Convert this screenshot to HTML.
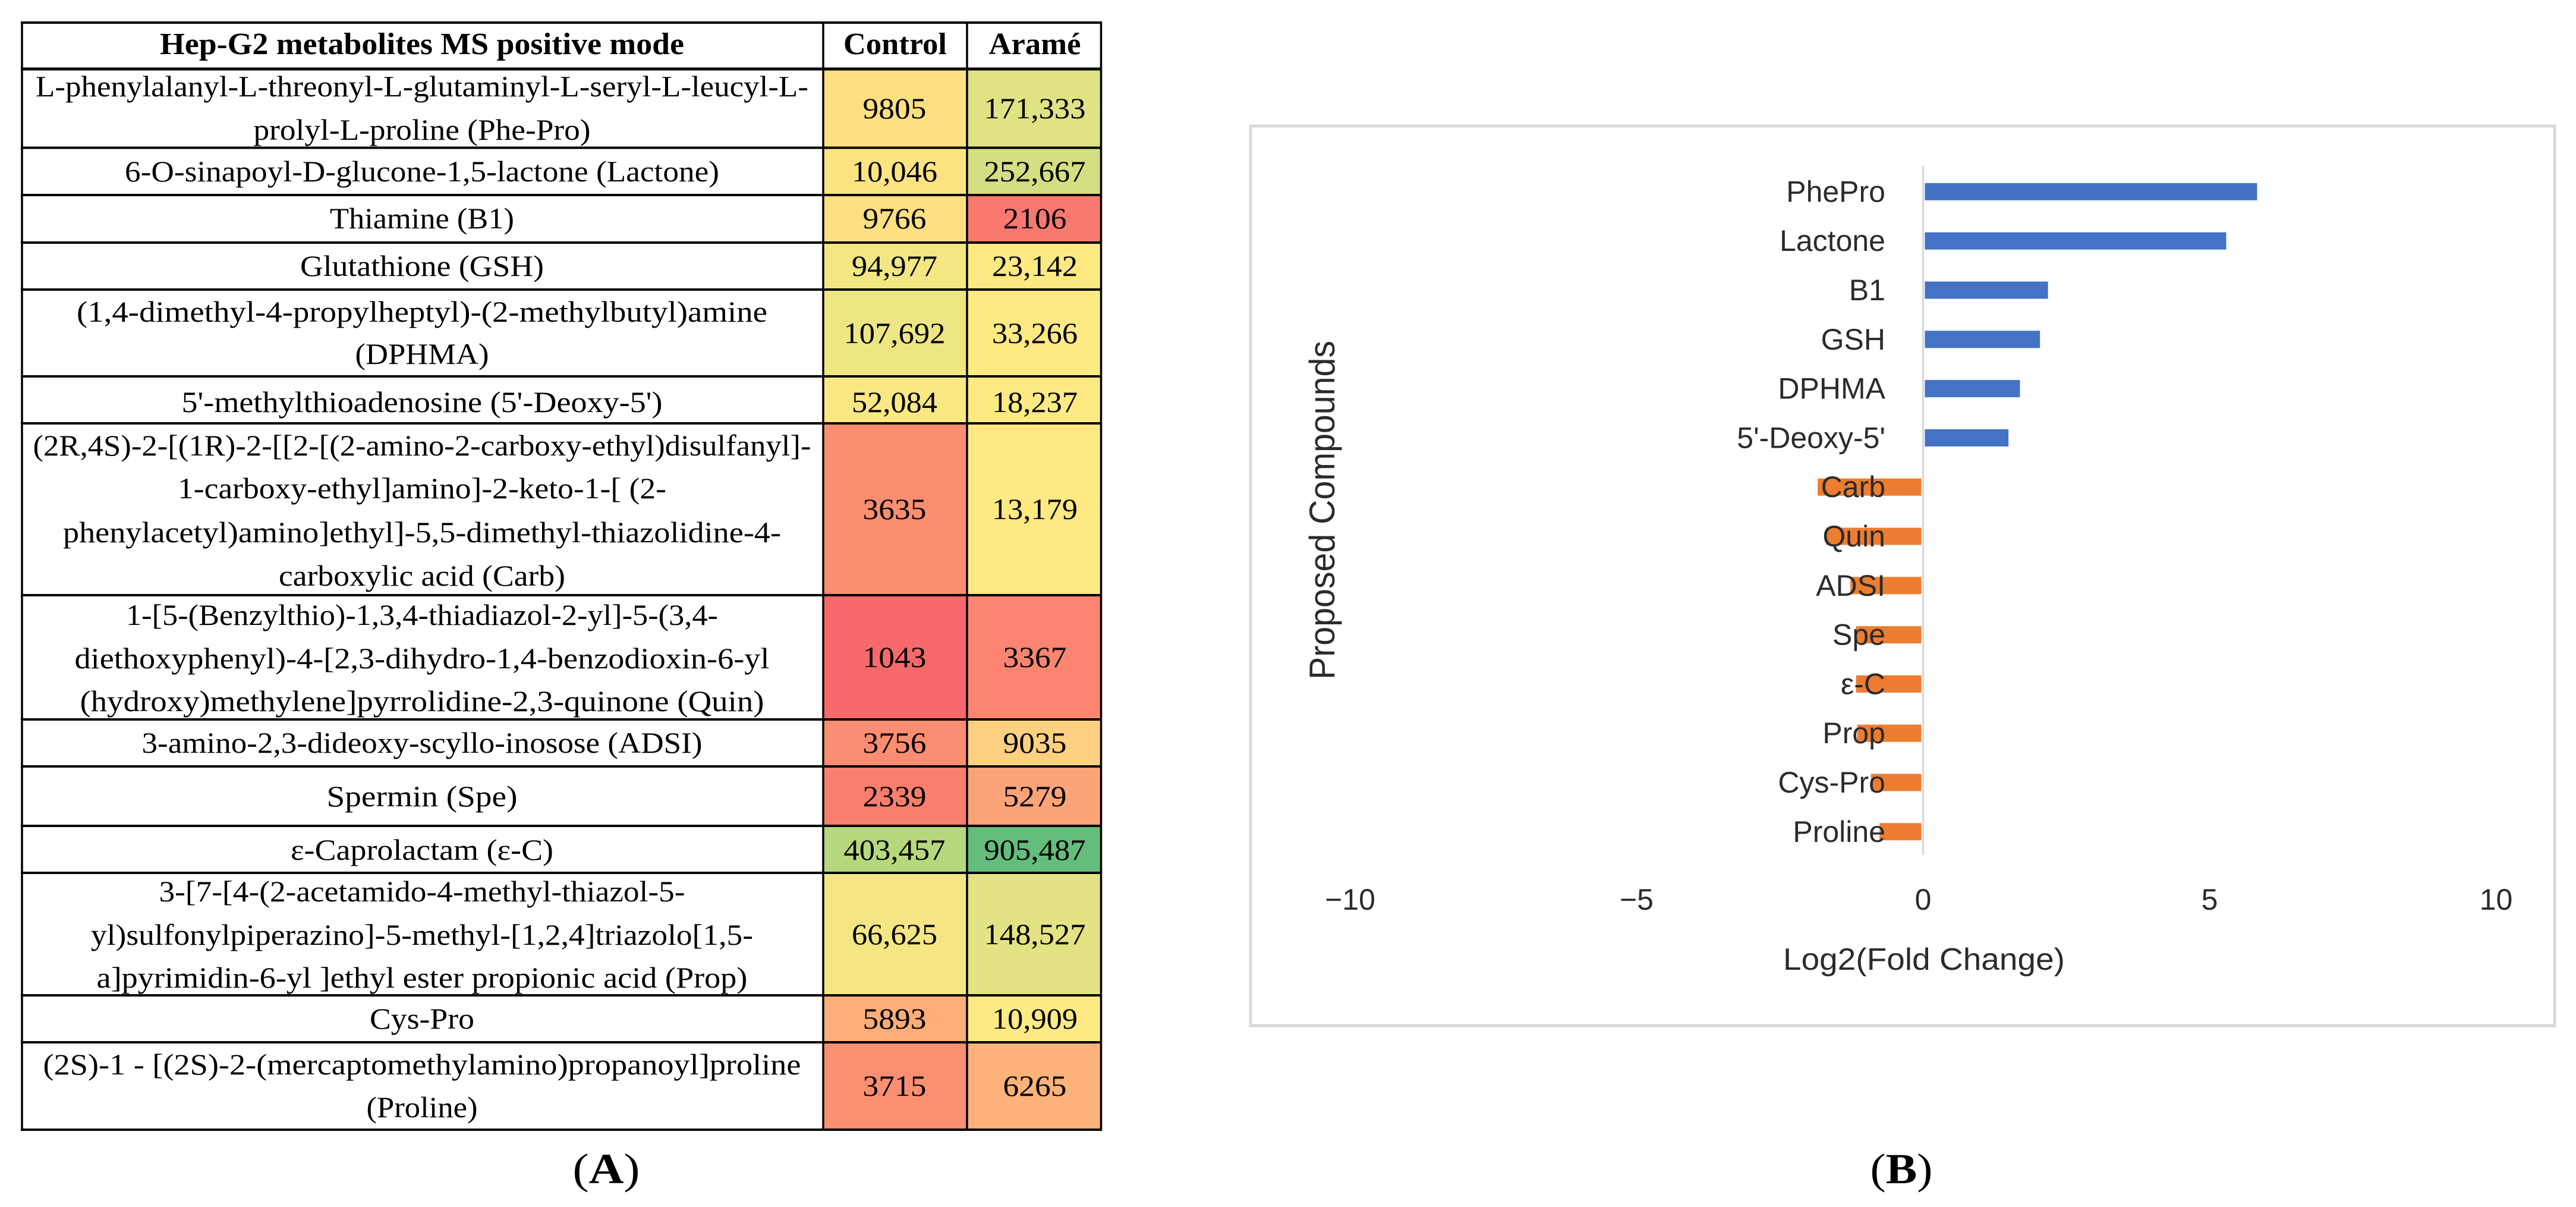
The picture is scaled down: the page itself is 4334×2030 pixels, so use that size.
<!DOCTYPE html>
<html lang="en">
<head>
<meta charset="utf-8">
<title>Hep-G2 metabolites and fold change</title>
<style>
html,body{margin:0;padding:0;background:#fff;}
body{width:4334px;height:2030px;overflow:hidden;}
svg{display:block;}
.t{font-family:"Liberation Serif","DejaVu Serif",serif;font-size:50px;fill:#000;text-anchor:middle;}
.h{font-family:"Liberation Serif","DejaVu Serif",serif;font-size:52px;font-weight:bold;fill:#000;text-anchor:middle;}
.n{font-family:"Liberation Serif","DejaVu Serif",serif;font-size:50px;fill:#000;text-anchor:middle;}
.c{font-family:"Liberation Sans","DejaVu Sans",sans-serif;fill:#2b2b2b;}
.g{stroke:#000;stroke-width:4;}
.v{stroke:#000;stroke-width:3.5;}
</style>
</head>
<body>
<svg id="fig" xmlns="http://www.w3.org/2000/svg" width="4334" height="2030" viewBox="0 0 4334 2030">
<rect x="0" y="0" width="4334" height="2030" fill="#fff"/>

<g>
  <g>
    <rect x="1385" y="116" width="242" height="132" fill="#FEDF81"/>
    <rect x="1627" y="116" width="225" height="132" fill="#E0E383"/>
    <rect x="1385" y="248" width="242" height="80" fill="#FEE382"/>
    <rect x="1627" y="248" width="225" height="80" fill="#D3DF82"/>
    <rect x="1385" y="328" width="242" height="80" fill="#FEDF81"/>
    <rect x="1627" y="328" width="225" height="80" fill="#F9786F"/>
    <rect x="1385" y="408" width="242" height="79" fill="#F2E783"/>
    <rect x="1627" y="408" width="225" height="79" fill="#FEE983"/>
    <rect x="1385" y="487" width="242" height="146" fill="#EEE683"/>
    <rect x="1627" y="487" width="225" height="146" fill="#FEEA83"/>
    <rect x="1385" y="633" width="242" height="79" fill="#F9E883"/>
    <rect x="1627" y="633" width="225" height="79" fill="#FEE983"/>
    <rect x="1385" y="712" width="242" height="289" fill="#FB8D71"/>
    <rect x="1627" y="712" width="225" height="289" fill="#FEE983"/>
    <rect x="1385" y="1001" width="242" height="209" fill="#F8696B"/>
    <rect x="1627" y="1001" width="225" height="209" fill="#FB8570"/>
    <rect x="1385" y="1210" width="242" height="79" fill="#FB8D72"/>
    <rect x="1627" y="1210" width="225" height="79" fill="#FDD17F"/>
    <rect x="1385" y="1289" width="242" height="100" fill="#FA7E6E"/>
    <rect x="1627" y="1289" width="225" height="100" fill="#FCA377"/>
    <rect x="1385" y="1389" width="242" height="79" fill="#B6D87D"/>
    <rect x="1627" y="1389" width="225" height="79" fill="#63BE7B"/>
    <rect x="1385" y="1468" width="242" height="206" fill="#F4E783"/>
    <rect x="1627" y="1468" width="225" height="206" fill="#E3E383"/>
    <rect x="1385" y="1674" width="242" height="79" fill="#FCAD78"/>
    <rect x="1627" y="1674" width="225" height="79" fill="#FEEA83"/>
    <rect x="1385" y="1753" width="242" height="147" fill="#FB8F72"/>
    <rect x="1627" y="1753" width="225" height="147" fill="#FCB279"/>
  </g>

  <g>
    <line class="g" x1="35" x2="1854" y1="38" y2="38"/>
    <line class="g" x1="35" x2="1854" y1="116" y2="116" style="stroke-width:5"/>
    <line class="g" x1="35" x2="1854" y1="248.5" y2="248.5"/>
    <line class="g" x1="35" x2="1854" y1="328" y2="328"/>
    <line class="g" x1="35" x2="1854" y1="408" y2="408"/>
    <line class="g" x1="35" x2="1854" y1="487" y2="487"/>
    <line class="g" x1="35" x2="1854" y1="633" y2="633"/>
    <line class="g" x1="35" x2="1854" y1="712" y2="712"/>
    <line class="g" x1="35" x2="1854" y1="1001" y2="1001"/>
    <line class="g" x1="35" x2="1854" y1="1210" y2="1210"/>
    <line class="g" x1="35" x2="1854" y1="1289" y2="1289"/>
    <line class="g" x1="35" x2="1854" y1="1389" y2="1389"/>
    <line class="g" x1="35" x2="1854" y1="1468" y2="1468"/>
    <line class="g" x1="35" x2="1854" y1="1674" y2="1674"/>
    <line class="g" x1="35" x2="1854" y1="1753" y2="1753"/>
    <line class="g" x1="35" x2="1854" y1="1900" y2="1900"/>
    <line class="v" x1="37" x2="37" y1="36" y2="1902"/>
    <line class="v" x1="1385" x2="1385" y1="36" y2="1902"/>
    <line class="v" x1="1627" x2="1627" y1="36" y2="1902"/>
    <line class="v" x1="1852.5" x2="1852.5" y1="36" y2="1902"/>
  </g>

  <g>
    <text class="h" x="710" y="91" textLength="882" lengthAdjust="spacingAndGlyphs">Hep-G2 metabolites MS positive mode</text>
    <text class="h" x="1506" y="91" textLength="174" lengthAdjust="spacingAndGlyphs">Control</text>
    <text class="h" x="1741" y="91" textLength="155" lengthAdjust="spacingAndGlyphs">Aramé</text>
  </g>

  <g>
    <text class="t" x="710" y="162" textLength="1300" lengthAdjust="spacingAndGlyphs">L-phenylalanyl-L-threonyl-L-glutaminyl-L-seryl-L-leucyl-L-</text>
    <text class="t" x="710" y="235" textLength="567" lengthAdjust="spacingAndGlyphs">prolyl-L-proline (Phe-Pro)</text>
    <text class="t" x="710" y="305" textLength="1000" lengthAdjust="spacingAndGlyphs">6-O-sinapoyl-D-glucone-1,5-lactone (Lactone)</text>
    <text class="t" x="710" y="384" textLength="310" lengthAdjust="spacingAndGlyphs">Thiamine (B1)</text>
    <text class="t" x="710" y="464" textLength="410" lengthAdjust="spacingAndGlyphs">Glutathione (GSH)</text>
    <text class="t" x="710" y="541" textLength="1162" lengthAdjust="spacingAndGlyphs">(1,4-dimethyl-4-propylheptyl)-(2-methylbutyl)amine</text>
    <text class="t" x="710" y="612" textLength="225" lengthAdjust="spacingAndGlyphs">(DPHMA)</text>
    <text class="t" x="710" y="693" textLength="809" lengthAdjust="spacingAndGlyphs">5'-methylthioadenosine (5'-Deoxy-5')</text>
    <text class="t" x="710" y="766" textLength="1309" lengthAdjust="spacingAndGlyphs">(2R,4S)-2-[(1R)-2-[[2-[(2-amino-2-carboxy-ethyl)disulfanyl]-</text>
    <text class="t" x="710" y="838" textLength="822" lengthAdjust="spacingAndGlyphs">1-carboxy-ethyl]amino]-2-keto-1-[ (2-</text>
    <text class="t" x="710" y="912" textLength="1208" lengthAdjust="spacingAndGlyphs">phenylacetyl)amino]ethyl]-5,5-dimethyl-thiazolidine-4-</text>
    <text class="t" x="710" y="985" textLength="482" lengthAdjust="spacingAndGlyphs">carboxylic acid (Carb)</text>
    <text class="t" x="710" y="1051" textLength="996" lengthAdjust="spacingAndGlyphs">1-[5-(Benzylthio)-1,3,4-thiadiazol-2-yl]-5-(3,4-</text>
    <text class="t" x="710" y="1124" textLength="1169" lengthAdjust="spacingAndGlyphs">diethoxyphenyl)-4-[2,3-dihydro-1,4-benzodioxin-6-yl</text>
    <text class="t" x="710" y="1196" textLength="1151" lengthAdjust="spacingAndGlyphs">(hydroxy)methylene]pyrrolidine-2,3-quinone (Quin)</text>
    <text class="t" x="710" y="1266" textLength="943" lengthAdjust="spacingAndGlyphs">3-amino-2,3-dideoxy-scyllo-inosose (ADSI)</text>
    <text class="t" x="710" y="1356" textLength="321" lengthAdjust="spacingAndGlyphs">Spermin (Spe)</text>
    <text class="t" x="710" y="1446" textLength="442" lengthAdjust="spacingAndGlyphs">ε-Caprolactam (ε-C)</text>
    <text class="t" x="710" y="1516" textLength="885" lengthAdjust="spacingAndGlyphs">3-[7-[4-(2-acetamido-4-methyl-thiazol-5-</text>
    <text class="t" x="710" y="1589" textLength="1114" lengthAdjust="spacingAndGlyphs">yl)sulfonylpiperazino]-5-methyl-[1,2,4]triazolo[1,5-</text>
    <text class="t" x="710" y="1661" textLength="1095" lengthAdjust="spacingAndGlyphs">a]pyrimidin-6-yl ]ethyl ester propionic acid (Prop)</text>
    <text class="t" x="710" y="1730" textLength="176" lengthAdjust="spacingAndGlyphs">Cys-Pro</text>
    <text class="t" x="710" y="1807" textLength="1275" lengthAdjust="spacingAndGlyphs">(2S)-1 - [(2S)-2-(mercaptomethylamino)propanoyl]proline</text>
    <text class="t" x="710" y="1879" textLength="187" lengthAdjust="spacingAndGlyphs">(Proline)</text>
  </g>

  <g>
    <text class="n" x="1505" y="199" textLength="107" lengthAdjust="spacingAndGlyphs">9805</text>
    <text class="n" x="1741" y="199" textLength="171" lengthAdjust="spacingAndGlyphs">171,333</text>
    <text class="n" x="1505" y="305" textLength="144" lengthAdjust="spacingAndGlyphs">10,046</text>
    <text class="n" x="1741" y="305" textLength="171" lengthAdjust="spacingAndGlyphs">252,667</text>
    <text class="n" x="1505" y="384" textLength="107" lengthAdjust="spacingAndGlyphs">9766</text>
    <text class="n" x="1741" y="384" textLength="107" lengthAdjust="spacingAndGlyphs">2106</text>
    <text class="n" x="1505" y="464" textLength="144" lengthAdjust="spacingAndGlyphs">94,977</text>
    <text class="n" x="1741" y="464" textLength="144" lengthAdjust="spacingAndGlyphs">23,142</text>
    <text class="n" x="1505" y="577" textLength="171" lengthAdjust="spacingAndGlyphs">107,692</text>
    <text class="n" x="1741" y="577" textLength="144" lengthAdjust="spacingAndGlyphs">33,266</text>
    <text class="n" x="1505" y="693" textLength="144" lengthAdjust="spacingAndGlyphs">52,084</text>
    <text class="n" x="1741" y="693" textLength="144" lengthAdjust="spacingAndGlyphs">18,237</text>
    <text class="n" x="1505" y="873" textLength="107" lengthAdjust="spacingAndGlyphs">3635</text>
    <text class="n" x="1741" y="873" textLength="144" lengthAdjust="spacingAndGlyphs">13,179</text>
    <text class="n" x="1505" y="1122" textLength="107" lengthAdjust="spacingAndGlyphs">1043</text>
    <text class="n" x="1741" y="1122" textLength="107" lengthAdjust="spacingAndGlyphs">3367</text>
    <text class="n" x="1505" y="1266" textLength="107" lengthAdjust="spacingAndGlyphs">3756</text>
    <text class="n" x="1741" y="1266" textLength="107" lengthAdjust="spacingAndGlyphs">9035</text>
    <text class="n" x="1505" y="1356" textLength="107" lengthAdjust="spacingAndGlyphs">2339</text>
    <text class="n" x="1741" y="1356" textLength="107" lengthAdjust="spacingAndGlyphs">5279</text>
    <text class="n" x="1505" y="1446" textLength="171" lengthAdjust="spacingAndGlyphs">403,457</text>
    <text class="n" x="1741" y="1446" textLength="171" lengthAdjust="spacingAndGlyphs">905,487</text>
    <text class="n" x="1505" y="1588" textLength="144" lengthAdjust="spacingAndGlyphs">66,625</text>
    <text class="n" x="1741" y="1588" textLength="171" lengthAdjust="spacingAndGlyphs">148,527</text>
    <text class="n" x="1505" y="1730" textLength="107" lengthAdjust="spacingAndGlyphs">5893</text>
    <text class="n" x="1741" y="1730" textLength="144" lengthAdjust="spacingAndGlyphs">10,909</text>
    <text class="n" x="1505" y="1843" textLength="107" lengthAdjust="spacingAndGlyphs">3715</text>
    <text class="n" x="1741" y="1843" textLength="107" lengthAdjust="spacingAndGlyphs">6265</text>
  </g>
</g>

<text x="1020" y="1990" text-anchor="middle" font-family="'Liberation Serif',serif" font-size="72" fill="#000" textLength="113" lengthAdjust="spacingAndGlyphs">(<tspan font-weight="bold">A</tspan>)</text>
<text x="3199" y="1990" text-anchor="middle" font-family="'Liberation Serif',serif" font-size="72" fill="#000" textLength="105" lengthAdjust="spacingAndGlyphs">(<tspan font-weight="bold">B</tspan>)</text>

<rect x="2104" y="212" width="2194" height="1513" fill="#fff" stroke="#D9D9D9" stroke-width="5"/>
<g id="chart"></g>
<text class="c" x="3237" y="1631" text-anchor="middle" font-size="52" textLength="474" lengthAdjust="spacingAndGlyphs">Log2(Fold Change)</text>
<text class="c" transform="translate(2245,858) rotate(-90)" text-anchor="middle" font-size="60" textLength="570" lengthAdjust="spacingAndGlyphs">Proposed Compounds</text>
</svg>

<script>
var categories = ["PhePro","Lactone","B1","GSH","DPHMA","5'-Deoxy-5'","Carb","Quin","ADSI","Spe","ε-C","Prop","Cys-Pro","Proline"];
var log2FoldChange = [5.83,5.29,2.18,2.04,1.69,1.49,-1.84,-1.69,-1.27,-1.17,-1.17,-1.15,-0.91,-0.76];
var xTicks = [-10,-5,0,5,10];
var xTickLabels = ["−10","−5","0","5","10"];

var NS = "http://www.w3.org/2000/svg";
var chart = document.getElementById("chart");
var axisLeft = 2271.5, axisRight = 4199.5, domainMin = -10, domainMax = 10;
var bandTop = 281, bandStep = 82.8, barHeight = 29;

function xScale(v) {
  return axisLeft + (v - domainMin) / (domainMax - domainMin) * (axisRight - axisLeft);
}
function yBand(i) {
  return bandTop + bandStep * (i + 0.5);
}
function svgEl(tag) {
  return document.createElementNS(NS, tag);
}

categories.forEach(function (name, i) {
  var v = log2FoldChange[i];
  var bar = svgEl("rect");
  
  
  bar.setAttribute("x", Math.min(xScale(0), xScale(v)));
  bar.setAttribute("y", yBand(i) - barHeight / 2);
  bar.setAttribute("width", Math.abs(xScale(v) - xScale(0)));
  bar.setAttribute("height", barHeight);
  bar.setAttribute("fill", v >= 0 ? "#4472C4" : "#ED7D31");
  chart.appendChild(bar);
});

var halo = svgEl("line");


halo.setAttribute("x1", xScale(0));
halo.setAttribute("x2", xScale(0));
halo.setAttribute("y1", 279);
halo.setAttribute("y2", 1438);
halo.setAttribute("stroke", "#fff");
halo.setAttribute("stroke-width", 6);
chart.appendChild(halo);

var axis = svgEl("line");


axis.setAttribute("x1", xScale(0));
axis.setAttribute("x2", xScale(0));
axis.setAttribute("y1", 279);
axis.setAttribute("y2", 1438);
axis.setAttribute("stroke", "#D9D9D9");
axis.setAttribute("stroke-width", 3.5);
chart.appendChild(axis);

categories.forEach(function (name, i) {
  var label = svgEl("text");
  
  
  label.setAttribute("class", "c");
  label.setAttribute("x", 3172);
  label.setAttribute("y", yBand(i) + 17);
  label.setAttribute("text-anchor", "end");
  label.setAttribute("font-size", 50);
  label.textContent = name;
  chart.appendChild(label);
});

xTicks.forEach(function (t, i) {
  var tick = svgEl("text");
  
  
  tick.setAttribute("class", "c");
  tick.setAttribute("x", xScale(t));
  tick.setAttribute("y", 1530);
  tick.setAttribute("text-anchor", "middle");
  tick.setAttribute("font-size", 50);
  tick.textContent = xTickLabels[i];
  chart.appendChild(tick);
});
</script>
</body>
</html>
